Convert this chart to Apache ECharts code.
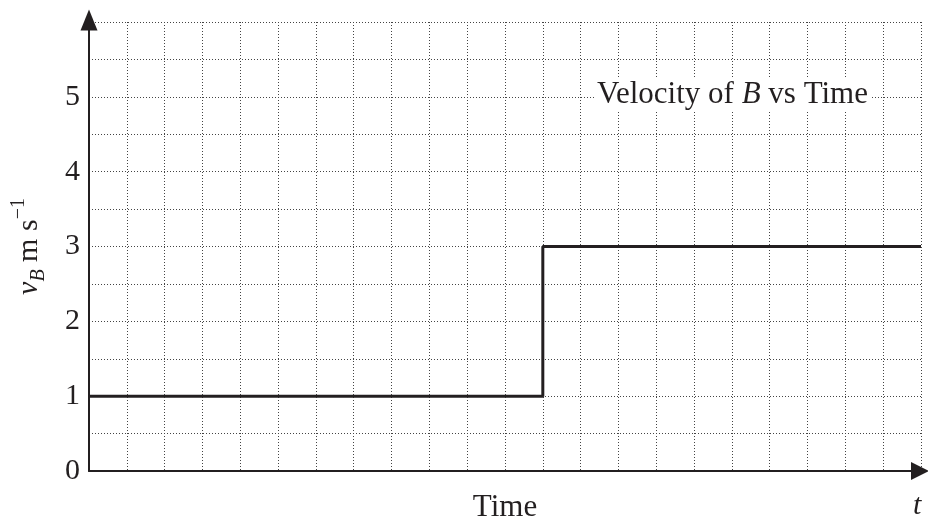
<!DOCTYPE html>
<html>
<head>
<meta charset="utf-8">
<script src="https://cdn.jsdelivr.net/npm/echarts@6/dist/echarts.min.js"></script>
<style>
html,body{margin:0;padding:0;background:#fff;}
#c{width:928px;height:528px;}
</style>
</head>
<body>
<div id="c"></div>
<script>
// Data
const times = [0, 12, 22];
const velocity = [1, 3, 3];
const yTickLabels = ['0', '1', '2', '3', '4', '5'];
const titleText = 'Velocity of {i|B} vs Time';
const xName = 'Time';
const yName = '{v|v}{b|B}{t| m s}{s|\u22121}';

const FONT = 'Liberation Serif';
const INK = '#231f20';

const chart = echarts.init(document.getElementById('c'), null, {renderer: 'canvas'});
chart.setOption({
  animation: false,
  backgroundColor: '#fff',
  title: {
    text: titleText,
    left: 594,
    top: 77,
    padding: [2, 3],
    backgroundColor: '#fff',
    textStyle: {
      fontFamily: FONT, fontSize: 31, fontWeight: 'normal', color: INK,
      rich: { i: { fontFamily: FONT, fontSize: 31, fontStyle: 'italic', color: INK } }
    }
  },
  grid: { left: 89, right: 7, top: 22, bottom: 52, containLabel: false },
  xAxis: {
    type: 'value', min: 0, max: 22, interval: 1,
    name: xName, nameLocation: 'middle', nameGap: 21,
    nameTextStyle: { fontFamily: FONT, fontSize: 31, color: INK },
    axisLine: { show: true, onZero: false, lineStyle: { color: INK, width: 2 },
      symbol: ['none', 'triangle'], symbolSize: [18, 18], symbolOffset: [0, -1] },
    axisTick: { show: false },
    axisLabel: { show: false },
    splitLine: { show: true, lineStyle: { color: '#444', width: 1, type: [1, 2] } }
  },
  yAxis: {
    type: 'value', min: 0, max: 6, interval: 0.5,
    name: yName, nameLocation: 'middle', nameRotate: 90, nameGap: 40,
    nameTextStyle: {
      fontFamily: FONT, fontSize: 30, color: INK,
      rich: {
        v: { fontFamily: FONT, fontSize: 30, fontStyle: 'italic', color: INK, lineHeight: 40, verticalAlign: 'middle' },
        b: { fontFamily: FONT, fontSize: 20, fontStyle: 'italic', color: INK, lineHeight: 20, verticalAlign: 'bottom' },
        t: { fontFamily: FONT, fontSize: 30, color: INK, lineHeight: 40, verticalAlign: 'middle' },
        s: { fontFamily: FONT, fontSize: 20, color: INK, lineHeight: 20, verticalAlign: 'top' }
      }
    },
    axisLine: { show: true, onZero: false, lineStyle: { color: INK, width: 2 },
      symbol: ['none', 'triangle'], symbolSize: [17, 21], symbolOffset: [0, 2] },
    axisTick: { show: false },
    axisLabel: {
      show: true, margin: 9, fontFamily: FONT, fontSize: 30, color: INK,
      formatter: function (v) { const s = String(v); return yTickLabels.indexOf(s) >= 0 ? s : ''; }
    },
    splitLine: { show: true, lineStyle: { color: '#444', width: 1, type: [1, 2] } }
  },
  series: [{
    type: 'line',
    step: 'end',
    data: times.map((t, i) => [t, velocity[i]]),
    showSymbol: false,
    symbol: 'none',
    lineStyle: { color: INK, width: 3 },
    z: 3
  }],
  graphic: [{
    type: 'text',
    left: 913,
    top: 491,
    style: { text: 't', font: 'italic 30px "Liberation Serif"', fill: INK }
  }]
});
</script>
</body>
</html>
